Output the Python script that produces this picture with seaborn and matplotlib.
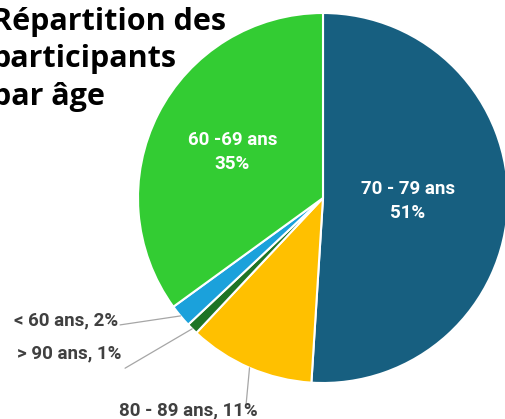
import numpy as np
import matplotlib
matplotlib.use('Agg')
import matplotlib.pyplot as plt
import seaborn as sns

# Data (clockwise from 12 o'clock)
groups = ['70 - 79 ans', '80 - 89 ans', '> 90 ans', '< 60 ans', '60 -69 ans']
shares = [51, 11, 1, 2, 35]
colors = ['#175F80', '#FFC000', '#1E7425', '#1BA1DB', '#33CC33']
title = 'Répartition des\nparticipants\npar âge'

sns.set_theme(style='white')
label_font = ['Roboto', 'DejaVu Sans']

fig = plt.figure(figsize=(5.05, 4.19), dpi=100)
ax = fig.add_axes([138 / 505, 36 / 419, 370 / 505, 370 / 419])

wedges, _ = ax.pie(shares, colors=colors, startangle=90, counterclock=False,
                   wedgeprops=dict(edgecolor='white', linewidth=1.5))
ax.set_xlim(-1, 1)
ax.set_ylim(-1, 1)
ax.set_aspect('equal')
ax.axis('off')

mids = [np.deg2rad((w.theta1 + w.theta2) / 2) for w in wedges]

# inside labels
for i, r in [(0, 0.46), (4, 0.55)]:
    x, y = r * np.cos(mids[i]), r * np.sin(mids[i])
    ax.text(x, y, f'{groups[i]}\n{shares[i]}%', color='white', fontsize=13.5,
            fontweight='bold', family=label_font, ha='center', va='center',
            linespacing=1.45)

# outside labels with leader lines
outside = {
    3: ((-1.097, -0.686), (-1.108, -0.66), 'right'),
    2: ((-1.07, -0.92), (-1.088, -0.842), 'right'),
    1: ((-0.416, -1.119), (-0.73, -1.146), 'center'),
}
for i, (end, txt, ha) in outside.items():
    sx, sy = np.cos(mids[i]), np.sin(mids[i])
    ax.plot([sx, end[0]], [sy, end[1]], color='#A6A6A6', lw=0.9, clip_on=False)
    ax.text(txt[0], txt[1], f'{groups[i]}, {shares[i]}%', color='#404040',
            fontsize=13.5, fontweight='bold', family=label_font, ha=ha,
            va='center', clip_on=False)

fig.text(-0.016, 0.984, title, fontsize=22, fontweight='bold', family=['Open Sans', 'DejaVu Sans'],
         color='black', ha='left', va='top', linespacing=1.33)

fig.savefig('out.png', dpi=100)
